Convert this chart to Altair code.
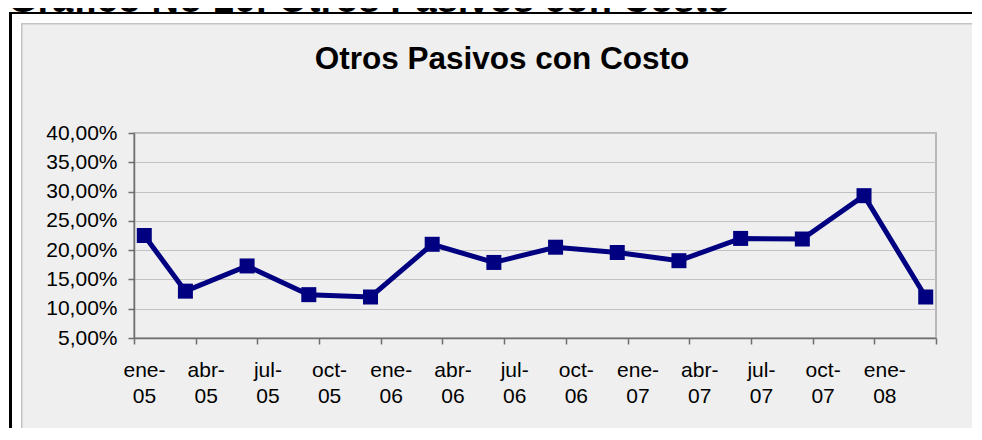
import json
import altair as alt
import pandas as pd

# ---- data ----
months = ["2005-01", "2005-03", "2005-06", "2005-09", "2005-12", "2006-03", "2006-06",
          "2006-09", "2006-12", "2007-03", "2007-06", "2007-09", "2007-12", "2008-03"]
values = [22.5, 13.0, 17.3, 12.4, 12.0, 21.0, 17.9, 20.5, 19.6, 18.2, 22.0, 21.9, 29.3, 12.0]
tick_labels = ["ene-05", "abr-05", "jul-05", "oct-05", "ene-06", "abr-06", "jul-06",
               "oct-06", "ene-07", "abr-07", "jul-07", "oct-07", "ene-08"]
y_ticks = [5, 10, 15, 20, 25, 30, 35, 40]
chart_title = "Otros Pasivos con Costo"
doc_title = "Gráfico No 16: Otros Pasivos con Costo"

FONT = "Liberation Sans"
NAVY = "#000080"


def slot(m):
    yr, mo = m.split("-")
    return (int(yr) - 2005) * 12 + int(mo) - 1 + 0.5


df = pd.DataFrame({"mes": months, "x": [slot(m) for m in months], "valor": values})
n_months = len(tick_labels) * 3
tick_vals = list(range(0, n_months + 1, 3))
label_arr = [[t.split("-")[0] + "-", t.split("-")[1]] for t in tick_labels] + [""]
label_expr = json.dumps(label_arr, ensure_ascii=False) + "[round(datum.value/3)]"

x_enc = alt.X(
    "x:Q",
    scale=alt.Scale(domain=[0, n_months], nice=False, zero=False),
    axis=alt.Axis(
        values=tick_vals, labelExpr=label_expr, title=None, grid=False,
        labelOffset=10, labelFlush=False, labelOverlap=False, labelBound=False,
        labelPadding=15, labelLineHeight=26, labelBaseline="top",
    ),
)
y_enc = alt.Y(
    "valor:Q",
    scale=alt.Scale(domain=[5, 40], nice=False, zero=False),
    axis=alt.Axis(
        values=y_ticks, title=None, grid=True,
        labelExpr="replace(format(datum.value, '.2f'), '.', ',') + '%'",
        labelPadding=11,
    ),
)

one = pd.DataFrame({"k": [0]})

# decorations: white page margins, black frame, chart-area border
white_left = alt.Chart(one).mark_rect(color="white").encode(
    x=alt.value(-140), x2=alt.value(-113), y=alt.value(-140), y2=alt.value(320))
white_top = alt.Chart(one).mark_rect(color="white").encode(
    x=alt.value(-140), x2=alt.value(900), y=alt.value(-140), y2=alt.value(-110))
frame_left = alt.Chart(one).mark_rect(color="black").encode(
    x=alt.value(-125), x2=alt.value(-122), y=alt.value(-121), y2=alt.value(320))
frame_top = alt.Chart(one).mark_rect(color="black").encode(
    x=alt.value(-125), x2=alt.value(900), y=alt.value(-121), y2=alt.value(-119))
area_left = alt.Chart(one).mark_rect(color="#c4c4c4").encode(
    x=alt.value(-113), x2=alt.value(-111.5), y=alt.value(-110), y2=alt.value(320))
area_top = alt.Chart(one).mark_rect(color="#c4c4c4").encode(
    x=alt.value(-113), x2=alt.value(900), y=alt.value(-110), y2=alt.value(-108.5))

doc_text = alt.Chart(one).mark_text(
    font=FONT, fontSize=38, fontWeight="bold", align="left", baseline="alphabetic",
    color="black").encode(x=alt.value(-126), y=alt.value(-121), text=alt.value(doc_title))
title_text = alt.Chart(one).mark_text(
    font=FONT, fontSize=31.5, fontWeight="bold", align="center", baseline="alphabetic",
    color="black").encode(x=alt.value(368), y=alt.value(-64), text=alt.value(chart_title))

line = alt.Chart(df).mark_line(color=NAVY, strokeWidth=5).encode(x=x_enc, y=y_enc)
pts = alt.Chart(df).mark_point(shape="square", filled=True, size=225, color=NAVY,
                               opacity=1).encode(x=x_enc, y=y_enc)

chart = alt.layer(
    white_left, white_top, frame_left, frame_top, area_left, area_top,
    doc_text, title_text, line, pts,
).properties(
    width=802, height=205,
    autosize=alt.AutoSizeParams(type="none"),
    padding={"left": 126, "top": 125, "right": 36, "bottom": 90},
    background="#efefef",
).configure_view(
    fill="#efefef", stroke="#b8b8b8", strokeWidth=2,
).configure_axis(
    labelFont=FONT, labelFontSize=21, labelColor="black",
    domainColor="#6e6e6e", domainWidth=1.5, tickColor="#6e6e6e", tickWidth=1.5,
    tickSize=6, gridColor="#c2c2c2", gridWidth=1,
)

chart.save("out.html", embed_options={"renderer": "svg", "actions": False})
